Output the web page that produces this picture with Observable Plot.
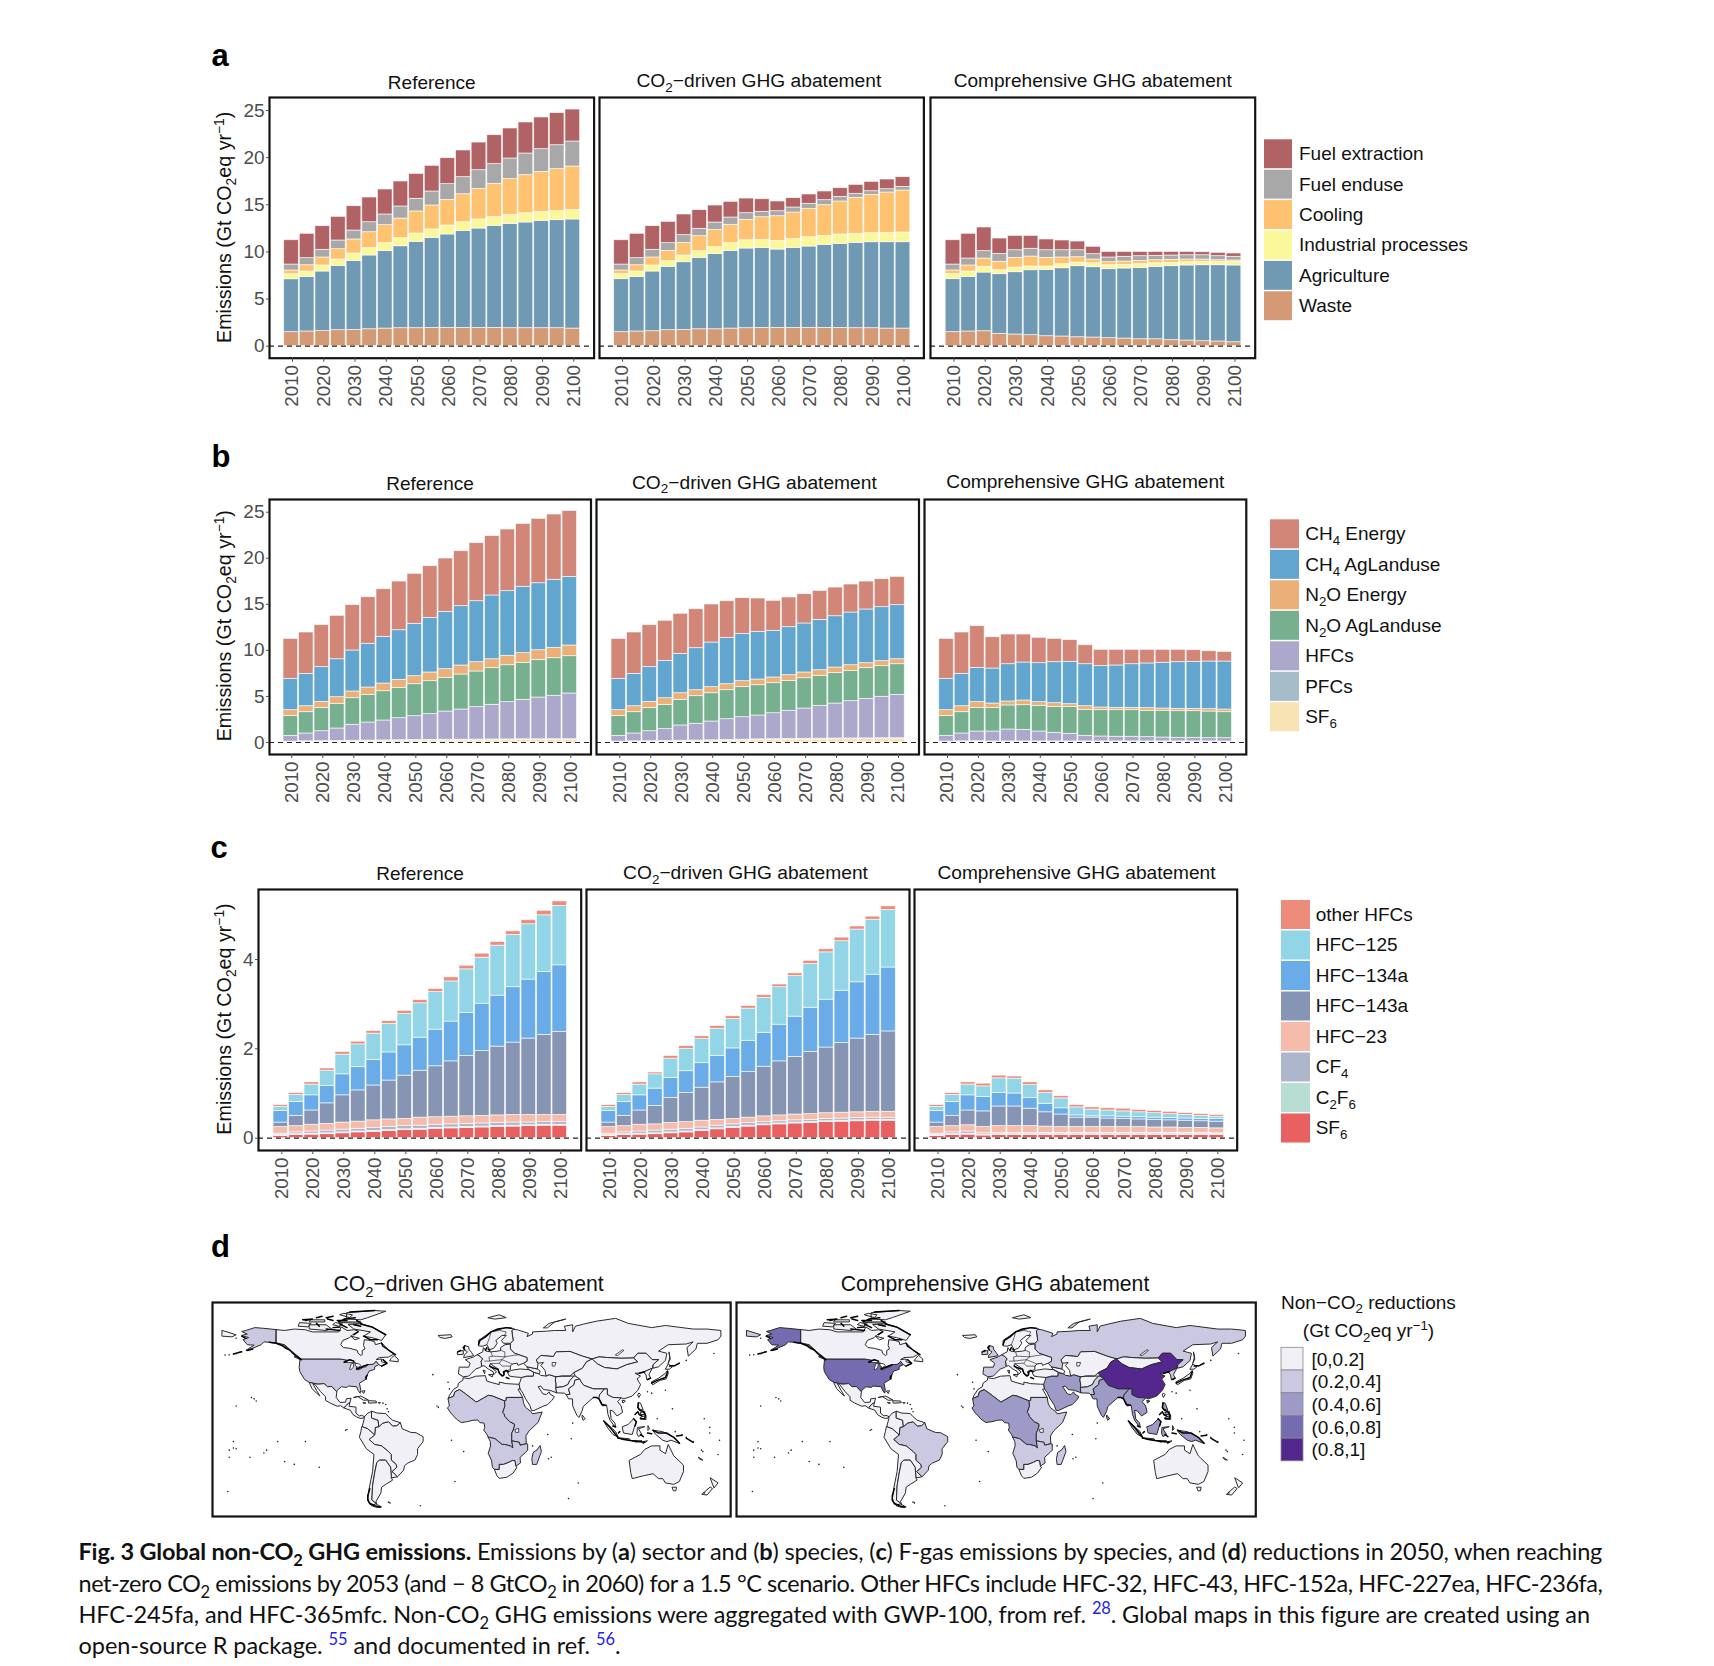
<!DOCTYPE html>
<html><head><meta charset="utf-8">
<style>html,body{margin:0;padding:0;background:#fff}#page{position:relative;width:1714px;height:1666px;overflow:hidden}svg{font-family:"Liberation Sans",Arial,sans-serif}</style>
<script src="https://cdn.jsdelivr.net/npm/d3@7"></script>
<script src="https://cdn.jsdelivr.net/npm/@observablehq/plot@0.6"></script>
</head><body><div id="page"></div>
<script>
const years=[2010,2015,2020,2025,2030,2035,2040,2045,2050,2055,2060,2065,2070,2075,2080,2085,2090,2095,2100];
const decades=[2010,2020,2030,2040,2050,2060,2070,2080,2090,2100];

// Every array below is the TOP of a stacked layer (Gt CO2eq/yr)
const sectorNames=["Waste","Agriculture","Industrial processes","Cooling","Fuel enduse","Fuel extraction"];
const sectorColors=["#D49A75","#7099B3","#FAF89B","#FEC270","#A8A8A8","#B06264"];
const aRefWaste=[1.49,1.56,1.6,1.7,1.73,1.8,1.87,1.91,1.91,1.94,1.94,1.94,1.94,1.94,1.91,1.91,1.91,1.91,1.87];
const aRefAgri=[7.1,7.35,7.92,8.52,9.05,9.62,10.1,10.6,11.07,11.49,11.85,12.23,12.48,12.77,12.98,13.12,13.3,13.37,13.44];
const aRefInd=[7.64,7.92,8.56,9.19,9.83,10.4,10.93,11.46,11.95,12.38,12.8,13.15,13.44,13.68,13.93,14.1,14.25,14.32,14.43];
const aRefCool=[8.03,8.59,9.41,10.29,11.32,12.09,12.84,13.54,14.29,14.92,15.52,16.12,16.69,17.22,17.72,18.14,18.49,18.78,19.06];
const aRefEnd=[8.66,9.34,10.22,11.21,12.27,13.15,13.97,14.82,15.63,16.41,17.19,17.93,18.67,19.31,19.91,20.44,20.9,21.32,21.71];
const aRefExt=[11.24,11.92,12.73,13.72,14.85,15.77,16.62,17.47,18.28,19.13,19.94,20.76,21.6,22.38,23.09,23.73,24.26,24.72,25.1];
const aCo2Waste=[1.49,1.56,1.59,1.7,1.73,1.8,1.8,1.87,1.91,1.94,1.94,1.94,1.94,1.94,1.94,1.91,1.91,1.87,1.87];
const aCo2Agri=[7.11,7.35,7.92,8.42,8.91,9.37,9.79,10.11,10.36,10.43,10.25,10.43,10.57,10.75,10.86,10.96,11.03,11.03,11.03];
const aCo2Ind=[7.64,7.92,8.56,9.02,9.62,10.08,10.5,10.93,11.24,11.28,11.17,11.35,11.56,11.7,11.85,11.92,11.99,12.02,12.06];
const aCo2Cool=[8.03,8.59,9.41,10.11,10.96,11.67,12.34,12.87,13.4,13.68,13.79,14.18,14.57,14.96,15.35,15.74,16.05,16.3,16.51];
const aCo2End=[8.66,9.34,10.22,10.93,11.78,12.45,13.12,13.65,14.11,14.25,14.32,14.71,15.1,15.49,15.84,16.16,16.44,16.65,16.9];
const aCo2Ext=[11.24,11.92,12.73,13.19,13.97,14.43,14.92,15.31,15.66,15.59,15.35,15.7,16.09,16.41,16.76,17.11,17.43,17.68,17.93];
const aComWaste=[1.49,1.56,1.59,1.31,1.24,1.17,1.06,1.03,.95,.92,.85,.81,.74,.74,.64,.6,.53,.5,.42];
const aComAgri=[7.11,7.35,7.81,7.64,7.85,8.06,8.1,8.27,8.49,8.38,8.17,8.24,8.31,8.42,8.49,8.56,8.59,8.59,8.56];
const aComInd=[7.64,7.92,8.42,8.06,8.34,8.45,8.45,8.7,8.87,8.8,8.59,8.63,8.7,8.8,8.84,8.91,8.95,8.95,8.95];
const aComCool=[8.03,8.56,9.3,8.95,9.37,9.51,9.37,9.41,9.44,9.19,8.91,8.98,9.05,9.12,9.16,9.19,9.19,9.12,9.09];
const aComEnd=[8.66,9.3,10.08,9.79,10.18,10.33,10.18,10.18,10.18,9.76,9.41,9.48,9.55,9.58,9.62,9.65,9.65,9.55,9.48];
const aComExt=[11.24,11.92,12.59,11.42,11.7,11.7,11.32,11.21,11.1,10.54,10,10,10,10,10,10,9.97,9.9,9.83];

const speciesNames=["SF6","PFCs","HFCs","N2O AgLanduse","N2O Energy","CH4 AgLanduse","CH4 Energy"];
const speciesColors=["#F8E3B5","#A5BDC9","#ABA8CC","#76B08F","#EAB078","#62A6D0","#D28678"];
const bRefSF6=[.05,.07,.08,.09,.11,.13,.14,.16,.18,.19,.21,.22,.23,.24,.25,.26,.27,.28,.28];
const bRefPFC=[.1,.13,.15,.17,.19,.21,.23,.25,.27,.28,.3,.31,.32,.33,.34,.35,.35,.36,.36];
const bRefHFC=[.72,.98,1.23,1.52,1.92,2.17,2.39,2.64,2.86,3.08,3.36,3.58,3.84,4.09,4.38,4.63,4.88,5.07,5.32];
const bRefN2OAg=[2.89,3.29,3.73,4.2,4.81,5.17,5.57,5.93,6.33,6.66,7.02,7.38,7.71,8.07,8.39,8.65,8.94,9.15,9.37];
const bRefN2OEn=[3.51,3.94,4.41,4.92,5.54,5.97,6.4,6.8,7.2,7.6,7.96,8.36,8.72,9.04,9.41,9.7,10.02,10.27,10.53];
const bRefCH4Ag=[6.91,7.45,8.18,9.04,9.99,10.71,11.47,12.19,12.88,13.53,14.18,14.8,15.34,15.96,16.43,16.9,17.29,17.66,17.98];
const bRefCH4En=[11.25,11.94,12.74,13.75,14.91,15.77,16.64,17.47,18.31,19.14,19.97,20.77,21.64,22.4,23.12,23.73,24.28,24.75,25.14];
const bCo2SF6=[.05,.07,.08,.09,.11,.13,.16,.2,.23,.26,.29,.31,.33,.34,.36,.37,.38,.39,.39];
const bCo2PFC=[.1,.13,.15,.17,.19,.21,.24,.28,.31,.34,.36,.38,.4,.41,.43,.44,.45,.46,.46];
const bCo2HFC=[.72,.98,1.23,1.45,1.85,2.03,2.28,2.53,2.75,2.93,3.18,3.44,3.69,3.98,4.23,4.49,4.74,4.96,5.17];
const bCo2N2OAg=[2.89,3.29,3.73,4.09,4.63,5.03,5.35,5.68,6.01,6.22,6.44,6.69,6.98,7.24,7.53,7.78,8.07,8.29,8.5];
const bCo2N2OEn=[3.51,3.94,4.41,4.81,5.35,5.68,6.01,6.33,6.66,6.84,7.06,7.31,7.6,7.85,8.14,8.39,8.61,8.83,9.04];
const bCo2CH4Ag=[6.91,7.45,8.18,8.86,9.62,10.24,10.85,11.36,11.79,12.01,12.12,12.52,12.92,13.31,13.71,14.11,14.44,14.69,14.91];
const bCo2CH4En=[11.25,11.94,12.74,13.21,13.97,14.47,14.98,15.34,15.67,15.63,15.38,15.74,16.1,16.46,16.82,17.15,17.47,17.73,17.98];
const bComSF6=[.05,.07,.08,.06,.07,.07,.07,.07,.07,.07,.07,.07,.07,.07,.07,.07,.07,.07,.07];
const bComPFC=[.1,.13,.15,.11,.12,.12,.12,.12,.12,.12,.12,.12,.12,.12,.12,.12,.12,.12,.11];
const bComHFC=[.72,.98,1.19,1.19,1.41,1.37,1.19,1.05,.94,.72,.65,.62,.62,.58,.54,.51,.51,.47,.47];
const bComN2OAg=[2.89,3.29,3.73,3.73,4.02,4.05,3.98,3.87,3.84,3.55,3.51,3.51,3.51,3.44,3.44,3.4,3.4,3.36,3.29];
const bComN2OEn=[3.51,3.94,4.38,4.23,4.45,4.56,4.38,4.27,4.16,3.94,3.8,3.76,3.76,3.73,3.69,3.65,3.65,3.62,3.58];
const bComCH4Ag=[6.91,7.45,8.1,8.03,8.5,8.68,8.61,8.72,8.76,8.5,8.29,8.36,8.5,8.58,8.65,8.72,8.76,8.79,8.79];
const bComCH4En=[11.25,11.94,12.63,11.43,11.72,11.72,11.36,11.25,11.11,10.56,10.06,10.06,10.06,10.06,10.06,10.06,10.02,9.91,9.84];

const fgasNames=["SF6","C2F6","CF4","HFC-23","HFC-143a","HFC-134a","HFC-125","other HFCs"];
const fgasColors=["#E86060","#B8DED3","#AEB6CC","#F5BCAB","#8795B5","#69ACE8","#92D5E6","#EE8C7C"];
const cRefSF6=bRefSF6;
const cRefC2F6=[.07,.09,.1,.11,.13,.15,.16,.18,.2,.21,.23,.24,.25,.26,.27,.28,.29,.3,.3];
const cRefCF4=bRefPFC;
const cRef23=[.25,.27,.3,.32,.35,.37,.4,.42,.43,.46,.47,.48,.49,.5,.51,.52,.52,.52,.52];
const cRef143=[.35,.5,.62,.78,.96,1.07,1.18,1.29,1.4,1.51,1.61,1.72,1.84,1.95,2.05,2.14,2.23,2.31,2.38];
const cRef134=[.61,.81,.96,1.17,1.43,1.59,1.75,1.92,2.08,2.25,2.43,2.61,2.8,3.01,3.19,3.38,3.55,3.72,3.87];
const cRef125=[.7,.97,1.2,1.51,1.87,2.1,2.34,2.56,2.78,3.02,3.27,3.51,3.78,4.04,4.31,4.55,4.79,4.99,5.2];
const cRefOther=[.74,1.01,1.25,1.56,1.93,2.16,2.4,2.62,2.85,3.09,3.34,3.6,3.86,4.13,4.39,4.63,4.88,5.09,5.3];
const cCo2SF6=bCo2SF6;
const cCo2C2F6=[.07,.09,.1,.11,.13,.15,.18,.22,.25,.28,.31,.33,.35,.36,.38,.39,.4,.41,.41];
const cCo2CF4=bCo2PFC;
const cCo223=[.25,.27,.3,.31,.34,.36,.39,.41,.43,.46,.49,.51,.53,.54,.56,.57,.58,.59,.59];
const cCo2143=[.35,.5,.62,.72,.9,1.01,1.13,1.25,1.37,1.48,1.6,1.72,1.82,1.93,2.03,2.13,2.23,2.31,2.39];
const cCo2134=[.61,.81,.96,1.11,1.35,1.5,1.68,1.84,2.01,2.18,2.36,2.54,2.72,2.92,3.1,3.3,3.49,3.66,3.82];
const cCo2125=[.7,.97,1.2,1.43,1.78,2,2.22,2.45,2.67,2.9,3.14,3.38,3.63,3.9,4.16,4.41,4.67,4.89,5.11];
const cCo2Other=[.74,1.01,1.25,1.47,1.84,2.06,2.28,2.51,2.73,2.96,3.2,3.44,3.69,3.97,4.23,4.49,4.74,4.96,5.19];
const cComSF6=bComSF6;
const cComC2F6=[.07,.09,.1,.08,.09,.09,.09,.09,.09,.09,.09,.09,.09,.09,.09,.09,.09,.09,.09];
const cComCF4=bComPFC;
const cCom23=[.25,.27,.29,.25,.27,.27,.27,.26,.25,.25,.25,.25,.25,.25,.24,.24,.23,.23,.22];
const cCom143=[.35,.5,.62,.6,.71,.71,.66,.58,.53,.46,.46,.44,.43,.42,.41,.4,.39,.38,.37];
const cCom134=[.61,.81,.96,.92,1.01,1,.9,.77,.67,.51,.49,.49,.48,.47,.46,.45,.44,.43,.43];
const cCom125=[.7,.97,1.2,1.16,1.34,1.33,1.19,1.01,.89,.69,.64,.62,.6,.58,.56,.54,.52,.5,.48];
const cComOther=[.74,1.01,1.25,1.22,1.4,1.38,1.25,1.07,.94,.74,.69,.67,.66,.63,.61,.59,.56,.54,.52];

// ---- map regions: outlines in [lon,lat] ----
const usa=[[[-123,49],[-95,49],[-89,48],[-84.5,46.5],[-82.5,45.5],[-83,42],[-79,43.5],[-75,45],[-71,45.3],[-69,47.4],[-67,45],[-70,43.5],[-70,41.7],[-74,40.5],[-75.5,37.5],[-76,35],[-81,32],[-80,27],[-80.5,25],[-82,27],[-83,29.5],[-89,30],[-90,29],[-94,29.5],[-97,27],[-97.3,25.9],[-101,29.7],[-104,29.5],[-106.5,31.7],[-111,31.3],[-117,32.5],[-120.5,34.5],[-124,40],[-124.5,43],[-124,48]],
[[-141,69.6],[-150,70.5],[-156.5,71],[-163,69],[-166,68.3],[-162,66.5],[-166,65.5],[-161,64],[-165,62.5],[-162,59],[-157,58.7],[-163,55],[-158,56.5],[-152,59],[-150,61],[-146,60.7],[-141,60],[-135,58],[-130,55],[-130,56],[-135,59],[-141,60.3]]];
const canada=[[[-141,69.6],[-135,69],[-128,70],[-120,69.5],[-115,68],[-108,68],[-100,68],[-96,68],[-94,71.5],[-90,69],[-85,69.5],[-81.5,68.5],[-86,66],[-88,64],[-93,62],[-94.5,59],[-92.5,57],[-88,56.5],[-82.5,55],[-82,53],[-80,51.5],[-79,52],[-79,55],[-77,56],[-78,58.5],[-77.5,62.5],[-73,62],[-70,61],[-69.5,59],[-65,60.3],[-62,57.5],[-60,55],[-56,52.5],[-60,50.3],[-66.5,50],[-69,48.5],[-65,49],[-65,47],[-61,46],[-65,44],[-67,45],[-69,47.4],[-71,45.3],[-75,45],[-79,43.5],[-83,42],[-82.5,45.5],[-84.5,46.5],[-89,48],[-95,49],[-123,49],[-130,54.5],[-135,59],[-141,60.3]],
[[-80,73.5],[-72,71.5],[-62,66],[-65,62],[-72,64],[-78,65],[-73,68],[-85,70],[-89,73]],[[-117,70],[-105,69],[-101,70],[-105,73],[-117,73]],[[-125,72],[-118,71.5],[-116,74],[-124,74.5]],[[-90,77],[-80,76.5],[-75,78],[-62,82.5],[-70,83],[-90,81.5]],[[-96,75],[-80,75],[-82,74],[-92,74.5]],[[-95,80],[-88,78],[-86,80],[-92,81]],[[-117,75],[-106,75],[-106,76.5],[-116,76.5]],[[-100,73],[-96,72],[-93,73.5],[-98,74.5]],[[-87,65],[-81,63.5],[-84,62.5]],[[-59,47.7],[-53,47],[-53,49],[-56,51.5],[-58,49.5]],[[-128,50.5],[-123.5,48.4],[-125,50]]];
const mexico=[[[-117,32.5],[-111,31.3],[-106.5,31.7],[-104,29.5],[-101,29.7],[-97.3,25.9],[-97.8,22],[-95,18.5],[-91,18.7],[-90.5,21],[-87,21.5],[-88,18],[-89,17.8],[-91,16],[-92,14.5],[-94.5,16.2],[-97,15.8],[-102,18],[-105.5,20],[-105.5,22.5],[-109,26],[-113,31],[-114.7,31.7],[-112,27],[-109.5,23],[-112,25],[-115,28]]];
const centralAm=[[[-88,18],[-88.5,15.8],[-83.5,15.2],[-83.5,11],[-81,9],[-79.5,9.5],[-77.3,8.5],[-78,7.5],[-80.5,7.3],[-83,8.3],[-85.7,10],[-87.5,13],[-92,14.5],[-91,16],[-89,17.8]],
[[-85,22],[-80,23],[-74.5,20.2],[-78,20],[-82,22.5]],[[-74.5,19.7],[-69,19.5],[-68.5,18.3],[-74,18]],[[-78.3,18.4],[-76.3,18.1],[-77.5,17.8]],[[-67.2,18.4],[-65.7,18.3],[-66.5,18]],[[-79,26.5],[-77,26.7],[-77.8,25]]];
const brazil=[[[-51.5,4.3],[-50,0],[-44,-2.5],[-40,-2.8],[-35,-5.5],[-35,-9],[-39,-14],[-39,-18],[-41,-22],[-46,-24],[-48.5,-26],[-49,-29],[-53.5,-33.7],[-57.5,-30],[-54,-27],[-54.5,-25],[-58,-22],[-58,-18],[-60,-16],[-65,-12],[-70,-11],[-74,-7.5],[-70,-4.3],[-69.5,1],[-67,1.5],[-64,4],[-60,5],[-57,2],[-54,2.2]]];
const colombia=[[[-77.3,8.5],[-75,11],[-72,12.3],[-72,7.5],[-67.5,6],[-67,1.5],[-69.5,1],[-70,-4.3],[-75,0],[-79,1.5],[-77.5,7]]];
const northSA=[[[-72,12.3],[-68,11],[-62,10.7],[-60,8.5],[-57,6],[-51.5,4.3],[-54,2.2],[-57,2],[-60,5],[-64,4],[-67,1.5],[-67.5,6],[-72,7.5]]];
const southSA=[[[-79,1.5],[-75,0],[-70,-4.3],[-74,-7.5],[-70,-11],[-65,-12],[-60,-16],[-58,-18],[-58,-22],[-54.5,-25],[-54,-27],[-57.5,-30],[-53.5,-33.7],[-58,-34.5],[-58,-33],[-58.5,-27],[-62,-22],[-66.5,-22],[-68.5,-24],[-70,-31],[-71.5,-40],[-72,-50],[-68.5,-52.5],[-72,-54],[-75,-50],[-74,-42],[-71.5,-30],[-70.5,-18],[-76,-14],[-81,-6],[-80,-2]]];
const argentina=[[[-66.5,-22],[-62,-22],[-58.5,-27],[-58,-33],[-58,-34.5],[-57,-36],[-62,-39],[-65,-41],[-65.5,-45],[-69,-51],[-68.5,-52.5],[-72,-50],[-71.5,-40],[-70,-31],[-68.5,-24]],[[-69,-52.8],[-65,-54.8],[-68.5,-55.2],[-72,-54]]];
const northAfrica=[[[-5.9,35.8],[-2,35.2],[3,36.9],[10,37.3],[11,33.5],[15,32.3],[20,31],[20,32.8],[25,31.7],[32,31.3],[34.3,31.3],[35,28],[33.5,27.8],[36.9,22],[25,22],[25,20],[24,19.5],[15,23],[12,23.5],[4,19],[3,19],[-5,25],[-8.7,27.5],[-12,26],[-13,23],[-17,21],[-16,23.5],[-13,27.8],[-10,29.5],[-9.5,32],[-6.5,34]]];
const westAfrica=[[[-17,21],[-16,16],[-17.5,14.7],[-15,11],[-13,9],[-11,6.8],[-7.5,4.4],[-3,5],[1,6],[4.5,6.2],[6,4.3],[9,4],[9.5,1],[8.8,-1],[11,-3.8],[12,-6],[13,-6],[17,-7],[22,-11],[24,-11],[28,-12],[29.8,-13.4],[29,-8.5],[29,-3],[30,-1],[31,2],[30.8,3.5],[27.5,5],[24,8.7],[23.5,10.5],[22.5,11.5],[24,15.7],[24,19.5],[15,23],[12,23.5],[4,19],[3,19],[-5,25],[-8.7,27.5],[-12,26],[-13,23]]];
const eastAfrica=[[[24,19.5],[25,20],[25,22],[36.9,22],[37.5,18],[39,15],[43,12],[44,10.5],[51,11.8],[48,4.5],[41.5,-1.5],[39.2,-5],[39.5,-10.5],[35,-11.5],[34.5,-9.5],[32,-9],[29,-8.5],[29,-3],[30,-1],[31,2],[30.8,3.5],[27.5,5],[24,8.7],[23.5,10.5],[22.5,11.5],[24,15.7]]];
const southernAfrica=[[[12,-6],[13.5,-9],[13.7,-12],[12,-17.2],[14.5,-22.5],[15,-27],[16.5,-28.6],[20,-28.4],[20,-25],[23,-25],[27,-23.5],[29.5,-22.2],[31.3,-22.4],[32,-26.5],[33,-25.5],[35.3,-24],[35,-20],[39,-16.5],[40.5,-15],[40.5,-10.7],[39.5,-10.5],[35,-11.5],[34.5,-9.5],[32,-9],[29,-8.5],[29.8,-13.4],[28,-12],[24,-11],[22,-11],[17,-7],[13,-6]],[[49.5,-12],[50.4,-16],[47,-25],[44,-25],[43.5,-21],[44.5,-16.5],[47,-15]]];
const southAfrica=[[[16.5,-28.6],[18.3,-33],[20,-34.8],[25.5,-34],[30,-31],[32.8,-27],[32,-26.5],[31.3,-22.4],[29.5,-22.2],[27,-23.5],[23,-25],[20,-25],[20,-28.4]]];
const middleEast=[[[36,36],[35,33],[34.3,31.3],[35,28],[37,25],[39,21],[42,16.5],[43.3,12.8],[45,12.8],[52,16],[55,17],[58,20],[59.8,22.5],[56.5,24.5],[56,26],[54,24],[51.5,24.5],[50.5,26],[48,29.5],[50,30],[52,27.5],[56.5,27],[61.5,25.2],[61,29],[61,31.5],[60.5,34],[61,36.5],[56,38],[53.8,37],[50,37.5],[48.8,38.5],[44.8,39.7],[44.5,37],[40,37],[36.7,36.2]]];
const turkey=[[[26.2,39.7],[29,41.1],[35,42],[41.5,41.5],[44.8,39.7],[44.5,37],[40,37],[36.7,36.2],[36,36],[30.5,36.5],[27.5,37]],[[40,43.5],[47.5,42],[49.5,40.5],[48.8,38.5],[44.8,39.7],[41.5,41.5]]];
const russia=[[[28,70],[33,69.5],[41,67],[40,64.7],[44,66.5],[44,68],[54,68.5],[60,69],[68,69],[67,72],[73,73],[73,68],[75,72],[81,73.5],[90,75.5],[104,77.5],[113,74],[130,71],[140,72.5],[160,70],[170,70],[180,69],[180,65],[178,62.5],[170,60],[163,60],[162,56],[156.5,51],[155.5,57],[160,61],[155,59.5],[142,59],[135,54.5],[141,53],[140,48],[135,43.5],[131,42.5],[131,45],[135,48.5],[130.5,48.5],[126,53],[120,53],[117,49.7],[108,49.5],[98,50],[92,50.5],[87,49],[80,51],[71,54.3],[61,54],[59,50.7],[50,51.5],[47,48.5],[48,46],[47.5,42],[40,43.5],[37.5,46],[40,47.5],[40,50],[34,52],[31,53],[28,56],[28,60],[30,62],[29,69]],[[142,46],[143.5,49],[142.5,54],[143,50]],[[52,71],[56,74],[68,77],[60,75],[55,71]],[[-180,69],[-170,66],[-173,64.5],[-180,65]]];
const centralAsia=[[[47,48.5],[50,51.5],[59,50.7],[61,54],[71,54.3],[80,51],[87,49],[83,47],[80,42.5],[74,39.5],[71,37],[65,37],[61,36.5],[56,38],[53.8,37],[53,41],[50,44.5],[52,46.5],[48,46]],[[87,49],[92,50.5],[98,50],[108,49.5],[117,49.7],[120,47],[112,45],[105,42],[96,43],[91,45.5]],[[61,36.5],[65,37],[71,37],[74,37],[71,34],[69.5,31],[66,29.5],[61,29],[61,31.5],[60.5,34]]];
const pakistan=[[[61.5,25.2],[67,25],[68.5,23.7],[71,24.5],[70,28],[74,31],[74.5,34],[78,35],[75,37],[74,37],[71,34],[69.5,31],[66,29.5],[61,29]]];
const china=[[[74,39.5],[80,42.5],[83,47],[87,49],[91,45.5],[96,43],[105,42],[112,45],[120,47],[117,49.7],[120,53],[126,53],[130.5,48.5],[135,48.5],[131,45],[130.5,42.5],[124.5,40],[121,39],[118,39],[122,37],[119.5,35],[122,31],[120,27],[116,23],[110,21],[108,21.7],[102,22],[98,24],[98,28],[92,28],[88,28],[81,30.5],[79,33],[78,35],[75,37]],[[109,20],[111,19.5],[109.5,18.2]]];
const india=[[[68.5,23.7],[70,21],[72.8,21],[73,16],[76,9.5],[77.5,8],[80,13],[80.5,15.5],[85,19.5],[88,22],[90,22],[92,21],[92.5,24],[96,28],[92,28],[88,28],[81,30.5],[79,33],[78,35],[74.5,34],[74,31],[70,28],[71,24.5]],[[80,9.5],[82,7],[80.5,6],[79.8,8]]];
const seAsia=[[[92,21],[94,18],[94.5,16],[97.5,16.5],[98.5,10],[100,6],[103,2],[104,1.5],[103.5,4],[100.8,7],[100,13],[102,12.5],[105,9],[109,11.5],[108,16],[105.5,19],[108,21.7],[102,22],[98,24],[98,28],[96,28],[92.5,24]],[[120.5,18.5],[122,18],[124,13],[120.5,14]],[[122,8],[126,9.5],[126,6.5],[122,7]],[[122,11.5],[125,12.2],[125,10],[122.5,10]]];
const indonesia=[[[95.5,5.5],[104,-2],[105.8,-5.8],[102,-4],[98,1]],[[105.5,-6.5],[114.5,-8],[114,-7],[108,-6.5]],[[109,1.5],[113,3],[117,7],[119,5],[117.5,1],[116,-4],[110,-3]],[[120,1],[125,1.5],[120.5,0],[123,-4],[120.5,-5.5],[119.5,-3.5]],[[131,-1],[138,-2],[146,-6],[150.5,-10.5],[144,-8],[141,-9],[138,-8],[133,-4]],[[116,-8.3],[123,-8.4],[119,-9.3]],[[124,-9],[127,-8.4],[124,-10.3]],[[127.5,2],[128.5,0],[127.5,-1]]];
const korea=[[[124.5,40],[130.5,42.5],[128,38],[129.5,35.3],[126.5,34.5],[126,37.5]]];
const japan=[[[130,33],[135,35.5],[140,39],[141.5,41],[142,39],[140.5,35],[136,34],[131,31]],[[140,42],[142,45.5],[145,43.5],[143,42]],[[121,25],[122,24],[120.8,22],[120,23.5]]];
const australia=[[[114,-22],[122,-18],[125,-14.5],[130,-12],[136,-12],[136,-15],[140,-17.5],[142,-11],[146,-19],[153,-25.5],[153,-30],[150,-37],[146,-39],[140,-38],[138,-35],[135,-35],[131,-31.5],[124,-33],[116,-35],[115,-31]],[[145,-41],[148,-41],[147.5,-43.5],[146,-43.5]],[[172.5,-34.5],[178,-38],[175,-41.5],[174,-39]],[[172.5,-41],[174,-42],[170,-46.5],[166.5,-46]],[[164,-20],[167,-22],[165,-21.5]]];
const westEurope=[[[-9,43],[-9.5,38.5],[-6,36.5],[-2,37],[0,39],[3,42],[6,43],[7.5,44],[7,47.5],[8,49],[6,51],[4,52],[1.5,50.5],[-4.5,48.5],[-1,46],[-2,43.5]],[[-5.5,50],[1.5,51.3],[0,53.5],[-2,56],[-2,57.5],[-5,58.5],[-5.5,55.5],[-3,54],[-5,52]],[[-10,52],[-6,52.3],[-6,55],[-10,54]]];
const eastEurope=[[[7.5,44],[9,44.3],[12,42],[15.5,40],[16,38],[18,40],[13,44],[13.5,45.7],[19,42],[20,39],[23,37],[24,40],[26.2,41],[28,41.5],[28,44],[29.5,45.5],[33,46],[33.5,44.5],[37.5,46],[40,47.5],[40,50],[34,52],[31,53],[28,56],[28,59.5],[24,59],[21,57],[21,55],[19,54.5],[14,54],[10.5,54.5],[8.5,57],[8,54],[4,52],[6,51],[8,49],[7,47.5]],[[5,58.5],[5,62],[14,68],[25,71],[31,70],[29,69],[30,62],[28,60],[23,60],[21.5,62],[25,65.5],[22,65.5],[17.5,62],[18.5,60],[16,56.5],[13,55.5],[11,59],[8,58]],[[-24,65.5],[-15,66],[-14,64.5],[-19,63.4],[-22.5,64]],[[12,78],[20,80],[25,78],[17,77]],[[8.5,41],[9.7,41],[9.5,39]],[[12.5,38],[15.5,38.2],[15,36.7]]];
const lakes=[[[-92,46.7],[-88,48.5],[-85,47.5],[-85,46.5],[-88,46.5]],[[-88,42],[-87,45.5],[-85,46],[-85.5,43],[-87,41.7]],[[-84,46],[-81,45.5],[-80,44.5],[-82,43],[-83.5,44]],[[-83,41.7],[-79,43],[-79,42.5],[-81,41.5]],[[-79.5,43.3],[-76.5,44.2],[-76,43.5],[-78,43.2]],[[31.5,-.5],[34,.3],[34,-2.5],[32,-2.5]],[[58.5,46.5],[61,46.5],[60,44],[58.5,44]],[[104,52],[109,55.5],[110,55],[105.5,51.5]]];
const innerBorders=[[[-141,69.6],[-141,60.3]],[[14,54],[15,51],[12.5,50.3],[13,47.5],[9.5,47.5]],[[15,51],[24,50.5],[22,48.5],[17,48],[13,47.5]],[[24,50.5],[24,54],[21,55]],[[24,50.5],[30,51.5],[34,52]],[[22,48.5],[28,46],[29.5,45.5]],[[20,46],[22,44],[28,44]],[[13.5,45.7],[20,46],[22,48.5]],[[14,68],[20,69],[25,68],[24,66]],[[11,59],[13,64],[14,68]]];
const darkCoasts=[[[-146,60.7],[-141,60],[-137,58.5],[-134,56.5],[-131,55],[-128,52],[-125,50],[-123,48.5]],
[[-120,76],[-115,77]],[[-105,78],[-100,79]],[[-97,76],[-90,76]],[[-100,76],[-104,77]],[[-85,73],[-80,72]],[[-90,71],[-95,73.5]],[[-110,72],[-112,74]],[[-122,76.5],[-116,76.8]],[[-105,70],[-95,69]],[[-83,76],[-78,73]],[[-112,78],[-108,79]],[[-88,82],[-70,83]],[[-80,73.5],[-72,71.5],[-62,66]],[[-96,75],[-92,77],[-84,78]],[[-100,71],[-95,71.5]],[[-78,65],[-73,62.5],[-68,62.5]],[[-85,66],[-82,68]],
[[-65,60],[-64,58],[-61,56],[-58,54],[-55,52]],[[-65,44],[-61,46],[-64,48.5]],[[-75.5,37.5],[-76.5,36],[-76,35]],
[[-92,46.7],[-88,48.5],[-85,47.5]],[[-83,42],[-79,43.5],[-75,45]],
[[5,59],[6,62],[10,64.5],[14,68],[19,70],[25,71],[29,70.5]],[[19,42],[20,39],[22,37],[23.5,38],[23,40],[25,41],[26.5,40]],[[13,44],[15,43],[18,42]],[[25,36],[27,35.2]],[[10,55],[11,57]],[[12,56],[13,55]],[[-5,58],[-6,57],[-5,55.5]],
[[120.5,18],[120,15],[121.5,13],[124,12],[125.5,10],[125,7],[122,7]],[[118,10],[120,12],[121,10],[123,9]],[[95.5,5.5],[100,1],[104,-4],[106,-6.5],[110,-7.5],[114.5,-8.3],[120,-9],[125,-9.5]],[[131,-1],[135,-3],[141,-3],[146,-6],[150,-10]],[[148,-5],[152,-4.5]],[[155,-6.5],[160,-9.5]],[[122,-4],[124,-5.5]],[[127,-3],[130,-3.5]],[[117,7],[119,5],[118,2]],[[92,21],[94,17],[97,16.5]],[[88,22],[90,22],[92,21]],[[102,2],[104,1.3]],[[107,-2],[106,-3]],
[[-75,-49],[-74,-52],[-70,-54],[-66,-55]],[[-73.5,-42],[-75,-47],[-75,-50],[-73,-53]],
[[130,32],[134,34],[140,36],[141.5,40]],[[143,44],[147,44.5],[150,46]],[[-10,54],[-8,55]],[[121,39],[125,40]],[[129,35.5],[127,34.5]],[[-166,54],[-172,52.5]],[[-162,55],[-158,56]],[[-166,65],[-163,63.5]]];
const islands=[[-157,21],[-155.5,19.5],[-159,22],[-170,-14],[-150,-17],[-140,-9],[-175,-20],[-172,-13.5],[-160,-20],[-128,-25],[-110,-27],[-90,-.5],[-91,-1],[-170,16],[-176,-44],[-25,16],[-24,15],[-16,28],[-28,38],[-17,32.7],[-14.5,-8],[-5.7,-16],[-12,-37],[-59,-52],[-37,-54],[-60,-51.5],[55.5,-21],[57.5,-20],[73,4],[72,-7],[70,-49],[77,-38],[55,-4],[44,-12],[167,-16],[178,-18],[160,-9],[155,-6],[147,-2],[152,-4],[172,1],[168,7],[134,7],[145,14],[166,-15],[-175,52],[-170,52.7],[-178,51.7],[175,52.8],[-167,54],[155,48],[150,46],[146,44],[-170,63.5],[-62,17],[-61,14],[-60,12],[-64,18],[168,-45],[-135,-23],[-148,-15],[-120,-9],[-175,-15],[-172,-9],[179,-8],[172,-3],[140,27],[130,25],[127,26]];

const regionNames=["USA","Canada","Mexico","Central America","Brazil","Colombia","Northern South America","Southern South America","Argentina","Northern Africa","Western Africa","Eastern Africa","Southern Africa","South Africa","Middle East","Turkey and Caucasus","Russia","Central Asia","Pakistan","China","India","Southeast Asia","Indonesia","Korea","Japan","Australia and NZ","Western Europe","Eastern Europe"];
const regionShapes=[usa,canada,mexico,centralAm,brazil,colombia,northSA,southSA,argentina,northAfrica,westAfrica,eastAfrica,southernAfrica,southAfrica,middleEast,turkey,russia,centralAsia,pakistan,china,india,seAsia,indonesia,korea,japan,australia,westEurope,eastEurope];
const binLabels=["[0,0.2]","(0.2,0.4]","(0.4,0.6]","(0.6,0.8]","(0.8,1]"];
const binColors=["#F2F0F7","#CBC9E2","#9E9AC8","#756BB1","#54278F"];
const binsCo2 =[1,0,0,0,0,0,0,0,0,0,1,1,1,0,0,0,0,0,0,0,0,0,0,0,0,0,0,0];
const binsComp=[3,0,0,0,1,0,0,0,0,0,2,1,1,0,2,0,1,0,1,4,2,2,2,1,0,0,1,0];

// ---- layout ----
const page=d3.select("#page");
const overlay=page.append("svg").attr("width",1714).attr("height",1666).style("position","absolute").style("left",0).style("top",0);
function addText(str,x,y,o={}){
  const t=overlay.append("text").attr("x",x).attr("y",y).attr("font-size",o.size||19).attr("fill",o.fill||"#111").attr("text-anchor",o.anchor||"start").attr("font-family",o.font||null).attr("font-weight",o.weight||null);
  if(o.rotate) t.attr("transform",`rotate(${o.rotate} ${x} ${y})`);
  const fs=o.size||19;let cur=0;
  const re=/(§|_|\^|~|\*)\{([^}]*)\}/g;let last=0,m;
  const seg=(s,kind)=>{if(!s)return;const sp=t.append("tspan");
    let off=0;
    if(kind==="_"||kind==="§"){off=fs*.26;sp.attr("font-size",fs*.7);}
    if(kind==="^"||kind==="~"){off=-fs*.36;sp.attr("font-size",fs*.7);}
    if(kind==="~")sp.attr("fill","#2222ee");
    if(kind==="*"||kind==="§")sp.attr("font-weight","bold");
    if(off!==cur){sp.attr("dy",off-cur);cur=off;}
    sp.text(s);};
  while((m=re.exec(str))){seg(str.slice(last,m.index));seg(m[2],m[1]);last=re.lastIndex;}
  seg(str.slice(last));
  if(o.fit){const len=t.node().getComputedTextLength();const n=t.text().length;t.style("letter-spacing",((o.fit-len)/n)+"px");}
  return t;
}
function rows(tops,names){return years.flatMap((year,i)=>tops.map((top,j)=>({year,series:names[j],y1:j?tops[j-1][i]:0,y2:top[i]})));}

function barPanel({L,R,T,B,x0,x1,y0,yv,vv,ticks,tops,names,colors,showY}){
  const mL=45,mR=5,mT=5,mB=58;
  const s=(x1-x0)/18,bw=s*.94;
  const sx=L-mL,sy=T-mT;
  const chart=Plot.plot({
    width:R-L+mL+mR,height:B-T+mT+mB,marginLeft:mL,marginRight:mR,marginTop:mT,marginBottom:mB,
    style:{background:"transparent",fontFamily:"Liberation Sans",color:"#4d4d4d",overflow:"visible"},
    x:{type:"band",domain:years,range:[x0-bw/2-sx,x1+bw/2-sx],paddingInner:.06,paddingOuter:0,round:false,axis:null},
    y:{domain:[0,vv],range:[y0-sy,yv-sy],axis:null},
    color:{domain:names,range:colors},
    marks:[
      Plot.barY(rows(tops,names),{x:"year",y1:"y1",y2:"y2",fill:"series",stroke:"#fff",strokeWidth:.8,strokeOpacity:.75}),
      Plot.ruleY([0],{stroke:"#222",strokeWidth:1.2,strokeDasharray:"5,4"}),
      Plot.frame({stroke:"#141414",strokeWidth:2.2}),
      Plot.axisX({ticks:decades,tickFormat:String,tickRotate:-90,tickSize:4,tickPadding:3,fontSize:18.7,label:null,anchor:"bottom",dx:1}),
      ...(showY?[Plot.axisY({ticks,tickFormat:String,tickSize:3,tickPadding:2,fontSize:19,label:null,anchor:"left"})]:[])
    ]
  });
  chart.style.position="absolute";chart.style.left=sx+"px";chart.style.top=sy+"px";
  page.node().appendChild(chart);
}
function legend(names,colors,x,y,h,w,tx,size=19){
  names.forEach((n,i)=>{
    overlay.append("rect").attr("x",x).attr("y",y+i*h).attr("width",w).attr("height",h-1.5).attr("fill",colors[i]);
    addText(n,tx-.8,y+i*h+h/2+5.6,{size});
  });
}
const titleCo2="CO_{2}−driven GHG abatement",titleCom="Comprehensive GHG abatement",yTitle="Emissions (Gt CO_{2}eq yr^{−1})";

// panel a
barPanel({L:268.7,R:593.3,T:97.3,B:358,x0:290.7,x1:572,y0:346,yv:110.3,vv:25,ticks:[0,5,10,15,20,25],showY:true,names:sectorNames,colors:sectorColors,tops:[aRefWaste,aRefAgri,aRefInd,aRefCool,aRefEnd,aRefExt]});
barPanel({L:599.3,R:923.7,T:97.3,B:358,x0:621.3,x1:902.8,y0:346,yv:110.3,vv:25,names:sectorNames,colors:sectorColors,tops:[aCo2Waste,aCo2Agri,aCo2Ind,aCo2Cool,aCo2End,aCo2Ext]});
barPanel({L:929.5,R:1254.2,T:97.3,B:358,x0:952,x1:1233,y0:346,yv:110.3,vv:25,names:sectorNames,colors:sectorColors,tops:[aComWaste,aComAgri,aComInd,aComCool,aComEnd,aComExt]});
// panel b
barPanel({L:269,R:590.5,T:499,B:754,x0:290.3,x1:569.3,y0:742,yv:511.7,vv:25,ticks:[0,5,10,15,20,25],showY:true,names:speciesNames,colors:speciesColors,tops:[bRefSF6,bRefPFC,bRefHFC,bRefN2OAg,bRefN2OEn,bRefCH4Ag,bRefCH4En]});
barPanel({L:596,R:918.5,T:499,B:754,x0:618.3,x1:897,y0:742,yv:511.7,vv:25,names:speciesNames,colors:speciesColors,tops:[bCo2SF6,bCo2PFC,bCo2HFC,bCo2N2OAg,bCo2N2OEn,bCo2CH4Ag,bCo2CH4En]});
barPanel({L:924.2,R:1246,T:499,B:754,x0:946.2,x1:1224.5,y0:742,yv:511.7,vv:25,names:speciesNames,colors:speciesColors,tops:[bComSF6,bComPFC,bComHFC,bComN2OAg,bComN2OEn,bComCH4Ag,bComCH4En]});
// panel c
barPanel({L:258,R:580.7,T:889,B:1150,x0:280.3,x1:559.3,y0:1137.7,yv:959,vv:4,ticks:[0,2,4],showY:true,names:fgasNames,colors:fgasColors,tops:[cRefSF6,cRefC2F6,cRefCF4,cRef23,cRef143,cRef134,cRef125,cRefOther]});
barPanel({L:586,R:909,T:889,B:1150,x0:608.3,x1:888,y0:1137.7,yv:959,vv:4,names:fgasNames,colors:fgasColors,tops:[cCo2SF6,cCo2C2F6,cCo2CF4,cCo223,cCo2143,cCo2134,cCo2125,cCo2Other]});
barPanel({L:914.3,R:1237,T:889,B:1150,x0:936.8,x1:1216.6,y0:1137.7,yv:959,vv:4,names:fgasNames,colors:fgasColors,tops:[cComSF6,cComC2F6,cComCF4,cCom23,cCom143,cCom134,cCom125,cComOther]});

// maps
function close(shape){return shape.map(r=>[[...r,r[0]]]);}
function mapPanel(L,R,T,B,bins){
  const w=R-L,h=B-T,cx=w/2,eq=1428-T;
  const projection=d3.geoTransform({point(lon,lat){this.stream.point(cx+lon*1.385,eq-lat*1.425);}});
  const features=regionNames.map((name,i)=>({name,bin:binLabels[bins[i]],shape:{type:"MultiPolygon",coordinates:close(regionShapes[i])}}));
  const chart=Plot.plot({
    width:w,height:h,margin:0,projection,
    style:{background:"transparent",overflow:"visible"},
    color:{domain:binLabels,range:binColors},
    marks:[
      Plot.geo(features,{geometry:d=>d.shape,fill:"bin",stroke:"#2a2a2a",strokeWidth:1,strokeLinejoin:"round"}),
      Plot.geo([{type:"MultiPolygon",coordinates:close(lakes)}],{fill:"#fff",stroke:"#222",strokeWidth:.8}),
      Plot.geo([{type:"MultiLineString",coordinates:innerBorders}],{stroke:"#333",strokeWidth:.7,fill:"none"}),
      Plot.geo([{type:"MultiLineString",coordinates:darkCoasts}],{stroke:"#000",strokeWidth:1.5,fill:"none"}),
      Plot.dot(islands,{x:d=>d[0],y:d=>d[1],r:.8,fill:"#222"}),
      Plot.frame({stroke:"#141414",strokeWidth:2.2})
    ]
  });
  chart.style.position="absolute";chart.style.left=L+"px";chart.style.top=T+"px";
  page.node().appendChild(chart);
}
mapPanel(212,730.2,1301.7,1515.7,binsCo2);
mapPanel(735.5,1254.8,1301.7,1515.7,binsComp);

// panel letters
[["a",211.5,65.7],["b",211.5,466.7],["c",210.5,857.7],["d",211,1256.7]].forEach(([s,x,y])=>addText(s,x,y,{size:31,weight:"bold",fill:"#000"}));
// titles
addText("Reference",431.7,88.5,{anchor:"middle"});addText(titleCo2,758.9,87,{anchor:"middle",size:19.2});addText(titleCom,1092.7,86.7,{anchor:"middle",size:19.1});
addText("Reference",430,489.5,{anchor:"middle"});addText(titleCo2,754.4,488.5,{anchor:"middle",size:19.2});addText(titleCom,1085.4,488,{anchor:"middle",size:19.1});
addText("Reference",420,880,{anchor:"middle"});addText(titleCo2,745.5,879,{anchor:"middle",size:19.2});addText(titleCom,1076.5,879,{anchor:"middle",size:19.1});
addText(titleCo2,468.6,1291,{anchor:"middle",size:21.2});addText(titleCom,995,1291,{anchor:"middle",size:21.2});
// y titles
addText(yTitle,231,227.3,{anchor:"middle",rotate:-90,size:19.7});
addText(yTitle,231,625.7,{anchor:"middle",rotate:-90,size:19.7});
addText(yTitle,231,1019,{anchor:"middle",rotate:-90,size:19.7});
// legends
legend([...sectorNames].reverse(),[...sectorColors].reverse(),1264,139.3,30.4,28,1299.8);
legend(["CH_{4} Energy","CH_{4} AgLanduse","N_{2}O Energy","N_{2}O AgLanduse","HFCs","PFCs","SF_{6}"],[...speciesColors].reverse(),1270,519.3,30.5,29,1306);
legend(["other HFCs","HFC−125","HFC−134a","HFC−143a","HFC−23","CF_{4}","C_{2}F_{6}","SF_{6}"],[...fgasColors].reverse(),1281,900,30.5,29,1316.5);
addText("Non−CO_{2} reductions",1281,1308.5,{size:19});
addText("(Gt CO_{2}eq yr^{−1})",1368.5,1337,{size:19,anchor:"middle"});
binLabels.forEach((b,i)=>{
  overlay.append("rect").attr("x",1281).attr("y",1347.3+i*22.7).attr("width",22).attr("height",22.7).attr("fill",binColors[i]).attr("stroke","#888").attr("stroke-width",.8);
  addText(b,1311.5,1347.3+i*22.7+18.3,{size:19});
});
// caption
const capFont="Lato";
addText("*{Fig. 3 Global non-CO}§{2}*{ GHG emissions.} Emissions by (*{a}) sector and (*{b}) species, (*{c}) F-gas emissions by species, and (*{d}) reductions in 2050, when reaching",78.5,1560,{size:23.5,font:capFont,fit:1524});
addText("net-zero CO_{2} emissions by 2053 (and − 8 GtCO_{2} in 2060) for a 1.5 °C scenario. Other HFCs include HFC-32, HFC-43, HFC-152a, HFC-227ea, HFC-236fa,",78.5,1591.5,{size:23.5,font:capFont,fit:1524});
addText("HFC-245fa, and HFC-365mfc. Non-CO_{2} GHG emissions were aggregated with GWP-100, from ref. ~{28}. Global maps in this figure are created using an",78.5,1622.7,{size:23.5,font:capFont,fit:1511});
addText("open-source R package. ~{55} and documented in ref. ~{56}.",78.5,1653.5,{size:23.5,font:capFont,fit:542});
</script></body></html>
